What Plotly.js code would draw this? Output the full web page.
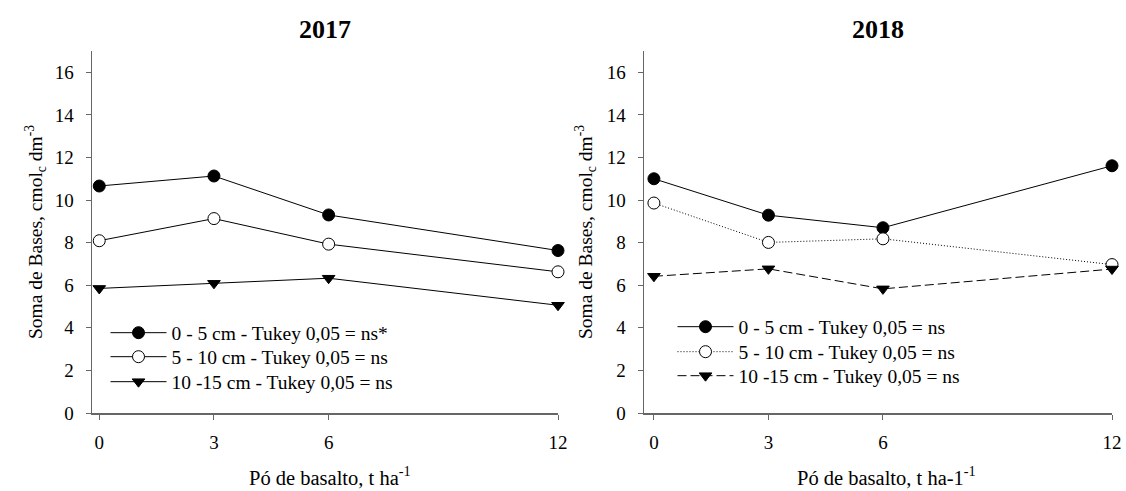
<!DOCTYPE html>
<html>
<head>
<meta charset="utf-8">
<script src="https://cdn.plot.ly/plotly-3.0.1.min.js"></script>
<style>html,body{margin:0;padding:0;background:#fff}</style>
</head>
<body>
<div id="chart" style="width:1126px;height:491px"></div>
<script>
// Basalt powder doses (t/ha) and tick labels
const doses = [0, 3, 6, 12];
const doseLabels = ['0', '3', '6', '12'];
const yTicks = [0, 2, 4, 6, 8, 10, 12, 14, 16];

// Sum of bases (cmolc dm-3) by soil depth, 2017
const sb2017_0_5 = [10.66, 11.13, 9.30, 7.63];
const sb2017_5_10 = [8.09, 9.13, 7.93, 6.63];
const sb2017_10_15 = [5.85, 6.09, 6.33, 5.06];

// Sum of bases (cmolc dm-3) by soil depth, 2018
const sb2018_0_5 = [11.00, 9.29, 8.70, 11.61];
const sb2018_5_10 = [9.86, 8.01, 8.18, 6.97];
const sb2018_10_15 = [6.42, 6.77, 5.83, 6.76];

const names2017 = ['0 - 5 cm - Tukey 0,05 = ns*', '5 - 10 cm - Tukey 0,05 = ns', '10 -15 cm - Tukey 0,05 = ns'];
const names2018 = ['0 - 5 cm - Tukey 0,05 = ns', '5 - 10 cm - Tukey 0,05 = ns', '10 -15 cm - Tukey 0,05 = ns'];
const panelTitles = ['2017', '2018'];
const yTitle = 'Soma de Bases, cmol<sub>c</sub> dm<sup>-3</sup>';
const xTitles = ['Pó de basalto, t ha<sup>-1</sup>', 'Pó de basalto, t ha-1<sup>-1</sup>'];

const W = 1126, H = 491;
const px = v => v / W;
const py = v => 1 - v / H;

const FONT = 'Liberation Serif';
const AX = '#666666';

const markerStyles = [
  {symbol: 'circle', size: 12, color: '#000', line: {color: '#000', width: 1}},
  {symbol: 'circle', size: 12, color: '#fff', line: {color: '#000', width: 1}},
  {symbol: 'triangle-down', size: 11, color: '#000', line: {color: '#000', width: 1}}
];

function makeTrace(x, y, name, idx, xa, ya, dash, legend) {
  return {
    type: 'scatter', mode: 'lines+markers',
    x: x, y: y, name: name,
    xaxis: xa, yaxis: ya, legend: legend,
    line: {color: '#000', width: 1, dash: dash},
    marker: markerStyles[idx],
    cliponaxis: false
  };
}

// one legend box per depth so each row sits at its own height
const data = [
  makeTrace(doses, sb2017_0_5, names2017[0], 0, 'x', 'y', 'solid', 'legend'),
  makeTrace(doses, sb2017_5_10, names2017[1], 1, 'x', 'y', 'solid', 'legend2'),
  makeTrace(doses, sb2017_10_15, names2017[2], 2, 'x', 'y', 'solid', 'legend3'),
  makeTrace(doses, sb2018_0_5, names2018[0], 0, 'x2', 'y2', 'solid', 'legend4'),
  makeTrace(doses, sb2018_5_10, names2018[1], 1, 'x2', 'y2', '1px,2px', 'legend5'),
  makeTrace(doses, sb2018_10_15, names2018[2], 2, 'x2', 'y2', '9px,4px', 'legend6')
];

function xAxis(domain, range, anchor) {
  return {
    domain: domain, range: range, anchor: anchor,
    tickvals: doses, ticktext: doseLabels,
    showgrid: false, zeroline: false,
    showline: true, linecolor: AX, linewidth: 1.5,
    ticks: 'outside', ticklen: 5, tickcolor: AX, tickwidth: 1,
    ticklabelstandoff: 7,
    tickfont: {family: FONT, size: 19, color: '#000'}
  };
}
function yAxis(domain, anchor) {
  return {
    domain: domain, range: [0, 17], anchor: anchor,
    tickvals: yTicks,
    showgrid: false, zeroline: false,
    showline: true, linecolor: AX, linewidth: 1.5,
    ticks: 'outside', ticklen: 5, tickcolor: AX, tickwidth: 1,
    ticklabelstandoff: 8,
    tickfont: {family: FONT, size: 19, color: '#000'}
  };
}

const yDom = [py(413), py(51)];

function legendAt(xPix, yPix) {
  return {
    bgcolor: 'rgba(0,0,0,0)', borderwidth: 0,
    font: {family: FONT, size: 19.5, color: '#000'},
    xanchor: 'left', yanchor: 'middle', itemwidth: 56,
    x: px(xPix), y: py(yPix)
  };
}

const annotations = [];
const titleX = [325, 878];
const yTitleX = [36, 586];
const xTitleX = [330, 886];
for (let i = 0; i < 2; i++) {
  annotations.push({
    xref: 'paper', yref: 'paper', x: px(titleX[i]), y: py(29),
    text: '<b>' + panelTitles[i] + '</b>', showarrow: false,
    xanchor: 'center', yanchor: 'middle',
    font: {family: FONT, size: 26, color: '#000'}
  });
  annotations.push({
    xref: 'paper', yref: 'paper', x: px(yTitleX[i]), y: py(232),
    text: yTitle, showarrow: false, textangle: -90,
    xanchor: 'center', yanchor: 'middle',
    font: {family: FONT, size: 19.5, color: '#000'}
  });
  annotations.push({
    xref: 'paper', yref: 'paper', x: px(xTitleX[i]), y: py(476),
    text: xTitles[i], showarrow: false,
    xanchor: 'center', yanchor: 'middle',
    font: {family: FONT, size: 20.5, color: '#000'}
  });
}

const layout = {
  width: W, height: H,
  margin: {l: 0, r: 0, t: 0, b: 0},
  paper_bgcolor: '#fff', plot_bgcolor: '#fff',
  font: {family: FONT, size: 19, color: '#000'},
  showlegend: true,
  xaxis: xAxis([px(92), px(558)], [-0.19, 12], 'y'),
  yaxis: yAxis(yDom, 'x'),
  xaxis2: xAxis([px(644), px(1112)], [-0.26, 12], 'y2'),
  yaxis2: yAxis(yDom, 'x2'),
  legend: legendAt(105.5, 333),
  legend2: legendAt(105.5, 357),
  legend3: legendAt(105.5, 382),
  legend4: legendAt(672.5, 327),
  legend5: legendAt(672.5, 352),
  legend6: legendAt(672.5, 376),
  annotations: annotations
};

Plotly.newPlot('chart', data, layout, {displayModeBar: false, staticPlot: true});
</script>
</body>
</html>
